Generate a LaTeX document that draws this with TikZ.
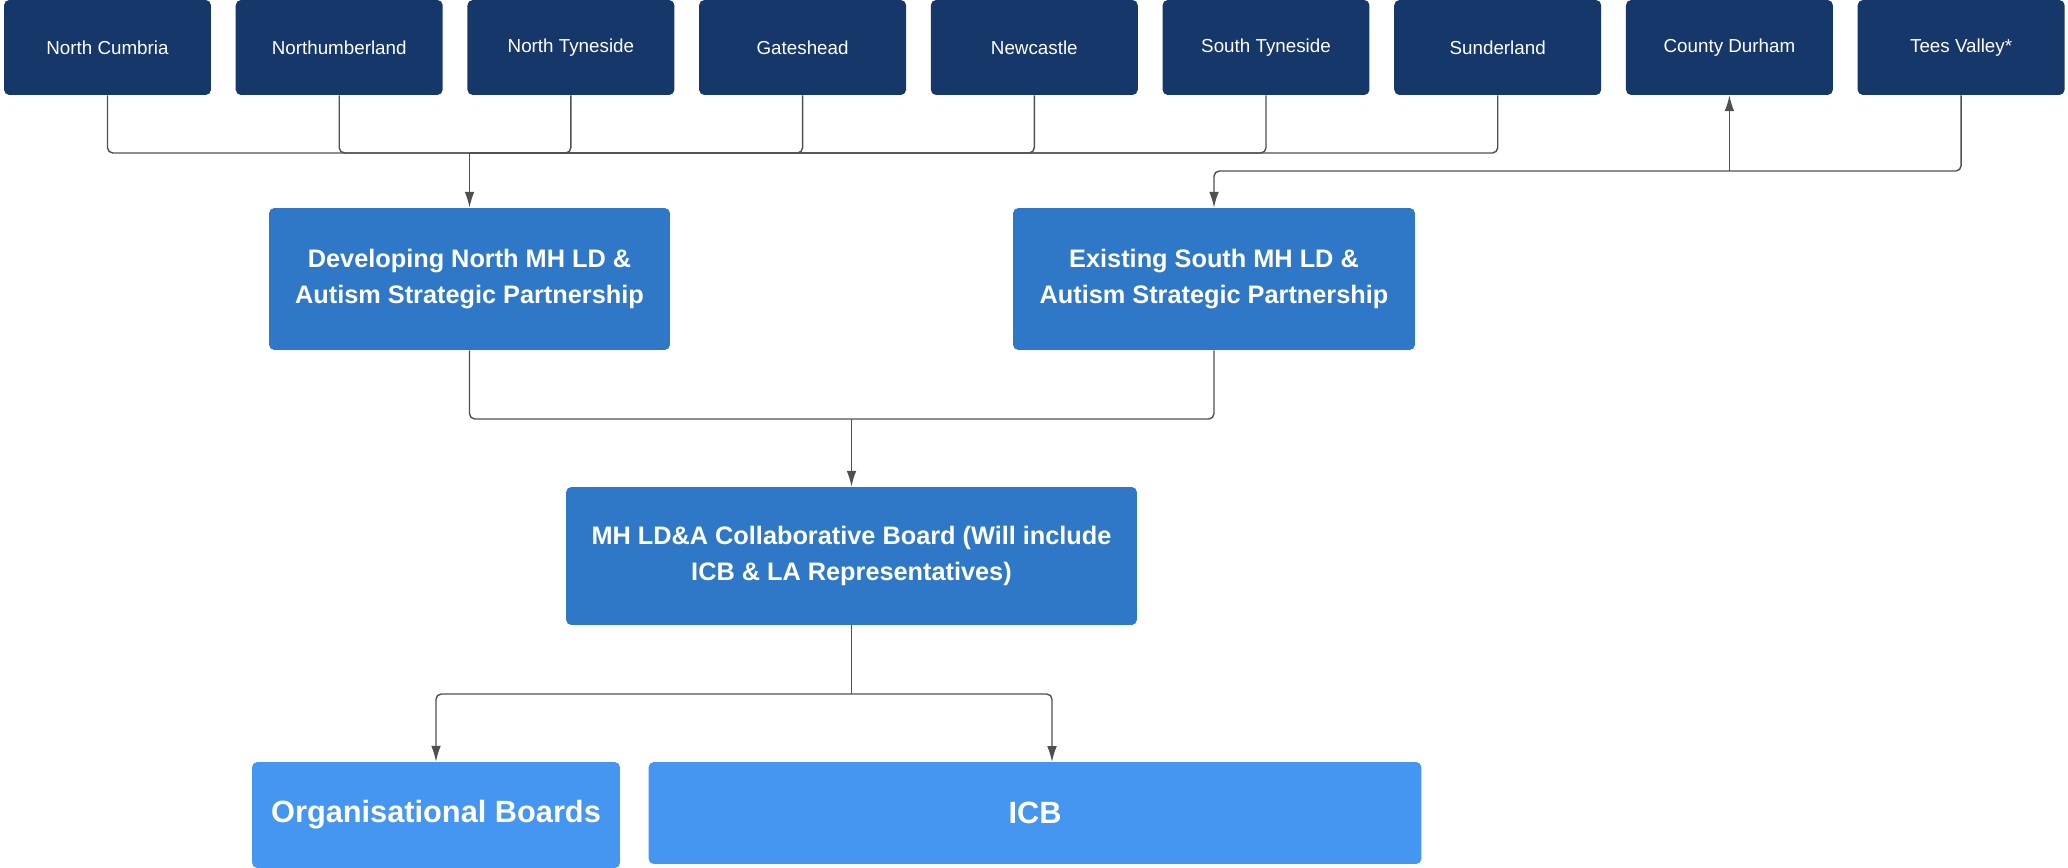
\documentclass[tikz,border=0pt]{standalone}
\usepackage{fontspec}
\setmainfont{Liberation Sans}
\usetikzlibrary{arrows.meta}

\definecolor{navy}{HTML}{15376A}
\definecolor{midblue}{HTML}{2F78C8}
\definecolor{lightblue}{HTML}{4596F0}
\definecolor{linegray}{HTML}{505050}

\begin{document}
\begin{tikzpicture}[x=0.02cm,y=-0.02cm,>={Latex[length=9pt,width=5.5pt]},
	area/.style={fill=navy,text=white,rounded corners=3pt,minimum width=4.14cm,minimum height=1.9cm,font=\fontsize{10.7}{13}\selectfont},
	group/.style={fill=midblue,text=white,rounded corners=3pt,align=center,font=\fontsize{14.4}{20.3}\selectfont\bfseries},
	board/.style={fill=lightblue,text=white,rounded corners=3pt,font=\fontsize{17.5}{21}\selectfont\bfseries},
	link/.style={draw=linegray,line width=0.8pt,rounded corners=3pt}]

\useasboundingbox (0,0) rectangle (2068,868);

% local areas
\foreach \nm/\txt [count=\i from 0] in {ncumbria/North Cumbria,nland/Northumberland,ntyne/North Tyneside,gates/Gateshead,newc/Newcastle,styne/South Tyneside,sund/Sunderland,durham/County Durham,tees/Tees Valley*}{
	\node[area] (\nm) at ({107.5+231.7*\i},47.5) {\txt};
}

\node[group,minimum width=8.02cm,minimum height=2.84cm] (north) at (469.5,279) {Developing North MH LD \&\\Autism Strategic Partnership};
\node[group,minimum width=8.04cm,minimum height=2.84cm] (south) at (1214,279) {Existing South MH LD \&\\Autism Strategic Partnership};
\node[group,minimum width=11.42cm,minimum height=2.76cm] (collab) at (851.5,556) {MH LD\&A Collaborative Board (Will include\\ICB \& LA Representatives)};

\node[board,minimum width=7.36cm,minimum height=2.12cm] (org) at (436,815) {Organisational Boards};
\node[board,minimum width=15.46cm,minimum height=2.04cm] (icb) at (1035,813) {ICB};

\coordinate (nbus) at (469.5,153);
\coordinate (sbus) at (1214,171);
\coordinate (mbus) at (851.5,419);
\coordinate (lbus) at (851.5,694);
\coordinate (icbin) at (1052,762);

% north partnership
\foreach \nm in {ncumbria,nland,ntyne,gates,newc,styne,sund}{
	\draw[link] (\nm.south) |- (nbus);
}
\draw[link,->] (nbus) -- (north.north);

% south partnership
\draw[link,->] (tees.south) |- (sbus) -- (south.north);
\draw[link,->] (durham.south |- sbus) -- (durham.south);

\draw[link] (north.south) |- (mbus);
\draw[link] (south.south) |- (mbus);
\draw[link,->] (mbus) -- (collab.north);

\draw[link] (collab.south) -- (lbus);
\draw[link,->] (lbus) -| (org.north);
\draw[link,->] (lbus) -| (icbin);

\end{tikzpicture}
\end{document}
